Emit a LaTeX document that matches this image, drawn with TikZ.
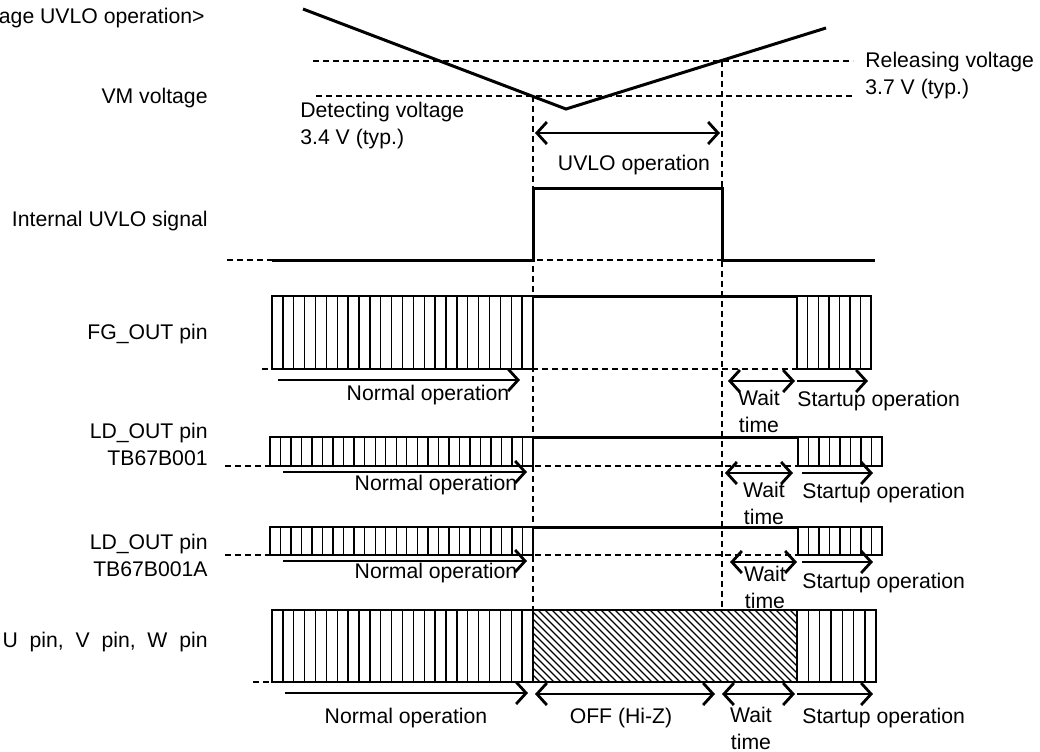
\documentclass[tikz,border=0pt]{standalone}
\usepackage{fontspec}
\setmainfont{Liberation Sans}
\usetikzlibrary{arrows.meta}

\begin{document}
\begin{tikzpicture}[x=0.5pt,y=-0.5pt,font=\fontsize{10.6}{13.5}\selectfont,
  >={Straight Barb[length=5pt,width=11pt]},
  lbl/.style={inner sep=0pt,text height=0.74em,text depth=0.21em},
  mlbl/.style={inner sep=0pt,align=center},
  sig/.style={line width=1.5pt},
  box/.style={line width=1.4pt},
  stripe/.style={line width=0.7pt},
  hatch/.style={line width=0.55pt},
  base/.style={line width=0.6pt,dash pattern=on 3pt off 2pt},
  span/.style={line width=1.4pt}]

\useasboundingbox (0,0) rectangle (1040,751);

% labels on the left
\node[lbl,anchor=east] (title) at (205,18) {age UVLO operation>};
\node[lbl,anchor=east] (vmlab) at (208,98) {VM voltage};
\node[lbl,anchor=east] (uvlolab) at (208,221) {Internal UVLO signal};
\node[lbl,anchor=east] (fglab) at (208,334) {FG\_OUT pin};
\node[mlbl,anchor=east,align=right] (ldalab) at (208,444) {LD\_OUT pin\\TB67B001};
\node[mlbl,anchor=east,align=right] (ldblab) at (208,555) {LD\_OUT pin\\TB67B001A};
\node[lbl,anchor=east] (uvwlab) at (208,642) {U~~pin,~~V~~pin,~~W~~pin};

% VM voltage
\coordinate (vtop) at (303,9);
\coordinate (vmin) at (566,109);
\coordinate (vend) at (826,28);
\coordinate (det) at (533,96);
\coordinate (rel) at (722,61);
\draw[base] (313,61) -- (853,61);
\draw[base] (316,96) -- (853,96);
\draw[sig] (vtop) -- (vmin) -- (vend);
\draw[base] (det) -- (533,610);
\draw[base] (rel) -- (722,610);
\node[mlbl,anchor=west,align=left] (detlab) at (300,126) {Detecting voltage\\3.4 V (typ.)};
\node[mlbl,anchor=west,align=left] (rellab) at (865,76) {Releasing voltage\\3.7 V (typ.)};
\draw[span,<->] (535,133) -- (720,133);
\node[lbl] (uvloop) at (634,165) {UVLO operation};

% internal UVLO signal
\draw[base] (227,260) -- (875,260);
\draw[sig] (272,260) -- (533,260) -- (533,188) -- (722,188) -- (722,260) -- (875,260);

% FG_OUT
\draw[base] (262,369) -- (797,369);
\foreach \i in {1,...,23}
  \draw[stripe] ({272+\i*10.875},296) -- ++(0,73);
\foreach \i in {1,...,6}
  \draw[stripe] ({797+\i*10.6},296) -- ++(0,73);
\draw[box] (272,296) rectangle (533,369);
\draw[box] (797,296) rectangle (871,369);
\draw[sig] (533,296) -- (797,296);
\draw[span,->] (278,380) -- (520,380);
\draw[span,<->] (728,381) -- (795,381);
\draw[span,->] (797,381) -- (868,381);
\node[lbl] (fgnorm) at (428,395) {Normal operation};
\node[mlbl] (fgwait) at (759,411) {Wait\\time};
\node[lbl,anchor=west] (fgstart) at (797,401) {Startup operation};

% LD_OUT, TB67B001
\draw[base] (225,466) -- (798,466);
\foreach \i in {1,...,24}
  \draw[stripe] ({270+\i*10.52},437) -- ++(0,29);
\foreach \i in {1,...,7}
  \draw[stripe] ({798+\i*10.5},437) -- ++(0,29);
\draw[box] (270,437) rectangle (533,466);
\draw[box] (798,437) rectangle (882,466);
\draw[sig] (533,437) -- (798,437);
\draw[span,->] (283,472) -- (527,472);
\draw[span,<->] (725,473) -- (793,473);
\draw[span,->] (802,473) -- (873,473);
\node[lbl] (ldanorm) at (436,485) {Normal operation};
\node[mlbl] (ldawait) at (764,503) {Wait\\time};
\node[lbl,anchor=west] (ldastart) at (802,493) {Startup operation};

% LD_OUT, TB67B001A
\draw[base] (225,555) -- (798,555);
\foreach \i in {1,...,24}
  \draw[stripe] ({270+\i*10.52},527) -- ++(0,28);
\foreach \i in {1,...,7}
  \draw[stripe] ({798+\i*10.5},527) -- ++(0,28);
\draw[box] (270,527) rectangle (533,555);
\draw[box] (798,527) rectangle (882,555);
\draw[sig] (533,527) -- (798,527);
\draw[span,->] (283,561) -- (527,561);
\draw[span,<->] (730,562) -- (797,562);
\draw[span,->] (802,562) -- (873,562);
\node[lbl] (ldbnorm) at (436,573) {Normal operation};
\node[mlbl] (ldbwait) at (765,587) {Wait\\time};
\node[lbl,anchor=west] (ldbstart) at (802,583) {Startup operation};

% U, V, W pins
\draw[base] (253,682) -- (272,682);
\foreach \i in {1,...,23}
  \draw[stripe] ({272+\i*10.875},610) -- ++(0,72);
\foreach \i in {1,...,6}
  \draw[stripe] ({797+\i*11.3},610) -- ++(0,72);
\begin{scope}
\clip (533,610) rectangle (797,682);
\foreach \i in {0,...,48}
  \draw[hatch] ({461+\i*7},610) -- ++(72,72);
\end{scope}
\draw[box] (272,610) rectangle (876,682);
\draw[box] (533,610) -- (533,682);
\draw[box] (797,610) -- (797,682);
\draw[span,->] (285,693) -- (528,693);
\draw[span,<->] (535,694) -- (715,694);
\draw[span,<->] (722,694) -- (795,694);
\draw[span,->] (797,694) -- (873,694);
\node[lbl] (uvwnorm) at (406,718) {Normal operation};
\node[lbl] (uvwoff) at (621,718) {OFF (Hi-Z)};
\node[mlbl] (uvwwait) at (751,728) {Wait\\time};
\node[lbl,anchor=west] (uvwstart) at (802,718) {Startup operation};
\end{tikzpicture}
\end{document}
